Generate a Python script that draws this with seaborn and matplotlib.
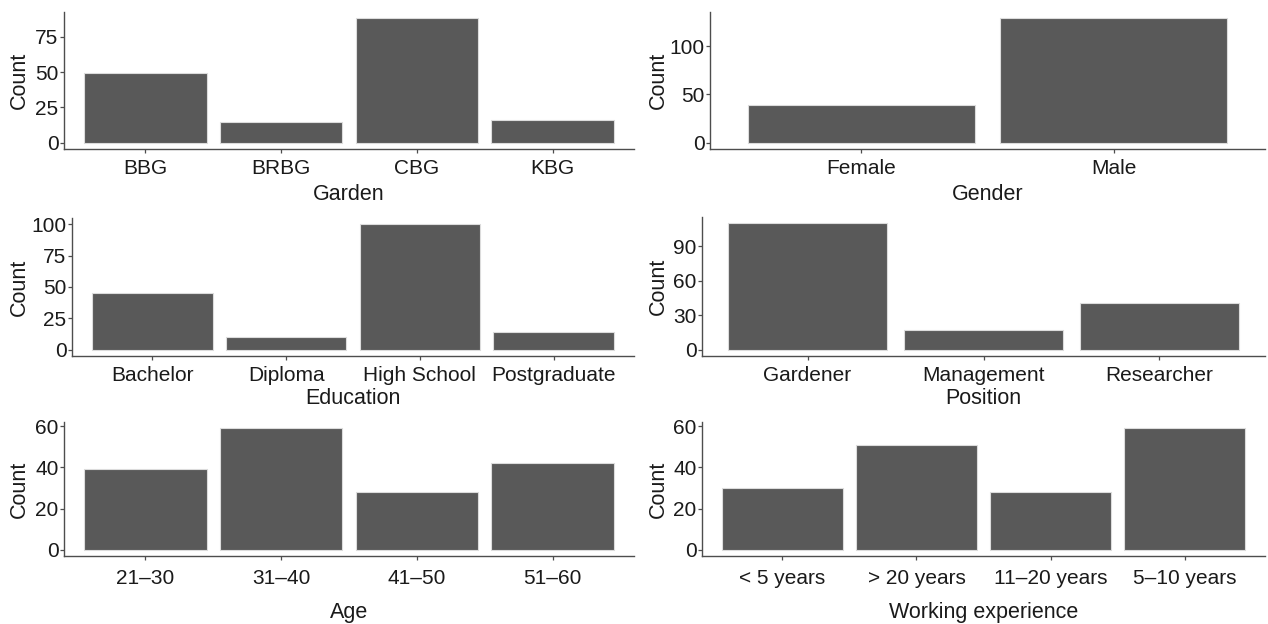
"""
Demographic count bar charts (six panels)
"""

import matplotlib
matplotlib.use("Agg")
import matplotlib.pyplot as plt
import matplotlib.transforms as mtransforms
import seaborn as sns

# Data
garden = ["BBG", "BRBG", "CBG", "KBG"]
garden_n = [49, 15, 88, 16]

gender = ["Female", "Male"]
gender_n = [39, 129]

education = ["Bachelor", "Diploma", "High School", "Postgraduate"]
education_n = [45, 10, 100, 14]

position = ["Gardener", "Management", "Researcher"]
position_n = [110, 17, 41]

age = ["21\u201330", "31\u201340", "41\u201350", "51\u201360"]
age_n = [39, 59, 28, 42]

experience = ["< 5 years", "> 20 years", "11\u201320 years", "5\u201310 years"]
experience_n = [30, 51, 28, 59]

sns.set_style("ticks")
plt.rcParams['font.family'] = ['Liberation Sans', 'DejaVu Sans']

W, H = 1268, 624
fig = plt.figure(figsize=(W / 100, H / 100), dpi=100)

BAR = '#595959'
EDGE = '#dcdcdc'
AXC = '#4d4d4d'
TXT = '#1a1a1a'

# (cats, values, xlabel, yticks, box in px: left, top, right, bottom, xlabel top px, tick pad)
panels = [
    (garden, garden_n, "Garden", [0, 25, 50, 75], (64, 12, 634, 149), 184, 4.0),
    (gender, gender_n, "Gender", [0, 50, 100], (710, 12, 1265, 149), 184, 4.0),
    (education, education_n, "Education", [0, 25, 50, 75, 100], (72, 218, 634, 356), 388, 4.0),
    (position, position_n, "Position", [0, 30, 60, 90], (702, 217, 1265, 356), 388, 4.0),
    (age, age_n, "Age", [0, 20, 40, 60], (64, 422, 634, 556), 602, 6.5),
    (experience, experience_n, "Working experience", [0, 20, 40, 60], (702, 422, 1265, 556), 602, 6.5),
]

for i, (cats, vals, xlab, yticks, box, xlab_top, xpad) in enumerate(panels):
    l, t, r, b = box
    ax = fig.add_axes([l / W, 1 - b / H, (r - l) / W, (b - t) / H])
    sns.barplot(x=cats, y=vals, order=cats, color=BAR, saturation=1,
                width=0.9, edgecolor=EDGE, linewidth=0.8, ax=ax)

    vmax = max(vals)
    ax.set_ylim(-0.05 * vmax, 1.05 * vmax)
    ax.set_xlim(-0.6, len(cats) - 0.4)
    ax.set_yticks(yticks)

    sns.despine(ax=ax)
    for side in ['left', 'bottom']:
        ax.spines[side].set_color(AXC)
        ax.spines[side].set_linewidth(1.0)
    ax.tick_params(axis='both', colors=AXC, length=3, width=0.9,
                   labelsize=15, labelcolor=TXT)
    ax.tick_params(axis='x', pad=xpad)
    ax.tick_params(axis='y', pad=1.0)

    ax.set_xlabel(xlab, fontsize=15.5, color=TXT)
    ax.set_ylabel("Count", fontsize=15.5, color=TXT)

    # line up the axis titles like the original layout
    xtr = mtransforms.blended_transform_factory(ax.transAxes, fig.transFigure)
    ax.xaxis.set_label_coords(0.5, 1 - xlab_top / H, transform=xtr)
    ylab_x = 30 if i % 2 == 0 else 669
    ytr = mtransforms.blended_transform_factory(fig.transFigure, ax.transAxes)
    ax.yaxis.set_label_coords(ylab_x / W, 0.5, transform=ytr)

fig.savefig("out.png", dpi=100)
